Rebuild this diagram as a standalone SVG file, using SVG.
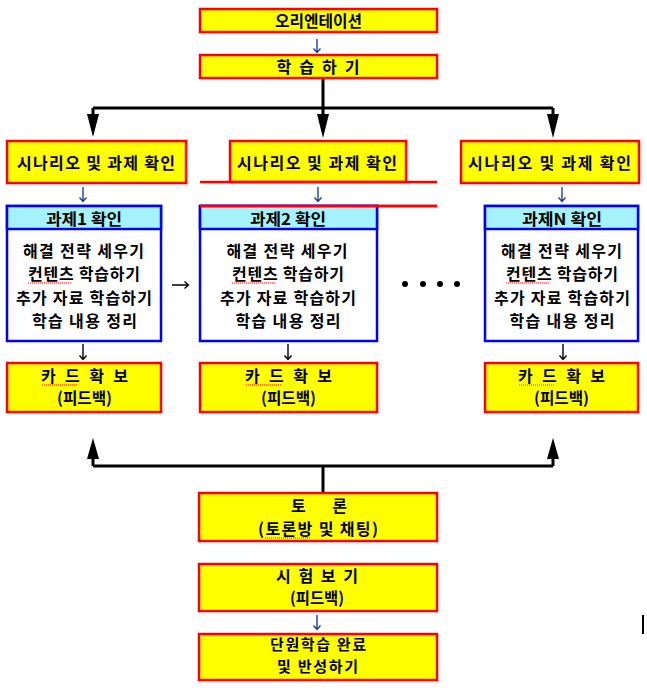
<svg xmlns="http://www.w3.org/2000/svg" width="647" height="690" viewBox="0 0 647 690">
<style>
.yb{fill:#ffff00;stroke:#ff0000;stroke-width:2.5}
.wb{fill:#ffffff;stroke:#0000ff;stroke-width:2.5}
.hd{fill:#a6f2fb;stroke:#0000ff;stroke-width:2.5}
.t{font-family:"Noto Sans CJK KR","Noto Sans",sans-serif;font-size:16px;font-weight:bold;fill:#000;text-anchor:middle}
.s15{font-size:15px}
.ln{stroke:#000;stroke-width:3;fill:none}
.ah{fill:#000}
.sa{stroke:#1f3f99;stroke-width:1.4;fill:none}
.ka{stroke:#000;stroke-width:1.4;fill:none}
.sq{stroke:#ff0000;stroke-width:1;stroke-dasharray:1 1;fill:none}
</style>
<g id="connectors">
<path class="ln" d="M323 78V108M93 108H553M93 108V118M323 108V118M553 108V118"/>
<polygon class="ah" points="87,114 99,114 93,137"/>
<polygon class="ah" points="317,114 329,114 323,138"/>
<polygon class="ah" points="547,114 559,114 553,138"/>
<path class="ln" d="M323 492V466M93 466H553M93 466V455M553 466V455"/>
<polygon class="ah" points="87,459 99,459 93,438"/>
<polygon class="ah" points="547,459 559,459 553,438"/>
<path class="sa" d="M317 39V52M313.5 48.5L317 52.5L320.5 48.5"/>
<path class="sa" d="M83 187V201M79.5 197.5L83 201.5L86.5 197.5"/>
<path class="sa" d="M318 187V201M314.5 197.5L318 201.5L321.5 197.5"/>
<path class="sa" d="M562 187V201M558.5 197.5L562 201.5L565.5 197.5"/>
<path class="ka" d="M83 344V359M79.5 355.5L83 359.5L86.5 355.5"/>
<path class="ka" d="M288 344V359M284.5 355.5L288 359.5L291.5 355.5"/>
<path class="ka" d="M563 344V359M559.5 355.5L563 359.5L566.5 355.5"/>
<path class="ka" d="M172 285H188M184.5 281.5L188.5 285L184.5 288.5"/>
<path class="sa" d="M317 615V629M313.5 625.5L317 629.5L320.5 625.5"/>
</g>
<g id="orientation">
<rect class="yb" x="200" y="9" width="237" height="23"/>
<text class="t" x="318.5" y="27" textLength="87" lengthAdjust="spacingAndGlyphs">오리엔테이션</text>
</g>
<g id="study">
<rect class="yb" x="200" y="55" width="237" height="23"/>
<text class="t" x="318" y="73" textLength="83" lengthAdjust="spacing">학 습 하 기</text>
</g>
<g id="scenario1">
<rect class="yb" x="7" y="141" width="179" height="42"/>
<text class="t" x="96" y="169" textLength="158" lengthAdjust="spacing">시나리오 및 과제 확인</text>
</g>
<g id="scenario2">
<rect class="yb" x="230" y="141" width="176" height="41"/>
<path d="M200 182H437M200 206H437" stroke="#ff0000" stroke-width="2.5"/>
<text class="t" x="317" y="169" textLength="160" lengthAdjust="spacing">시나리오 및 과제 확인</text>
</g>
<g id="scenario3">
<rect class="yb" x="461" y="141" width="178" height="42"/>
<text class="t" x="549.5" y="169" textLength="163" lengthAdjust="spacing">시나리오 및 과제 확인</text>
</g>
<g id="task1">
<rect class="wb" x="7" y="206" width="154" height="135"/>
<rect class="hd" x="7" y="206" width="154" height="23"/>
<text class="t" x="84" y="225" textLength="76" lengthAdjust="spacingAndGlyphs">과제1 확인</text>
<text class="t" x="83.5" y="257" textLength="121" lengthAdjust="spacing">해결 전략 세우기</text>
<text class="t" x="84" y="280" textLength="112" lengthAdjust="spacing">컨텐츠 학습하기</text>
<text class="t" x="84" y="304" textLength="136" lengthAdjust="spacing">추가 자료 학습하기</text>
<text class="t" x="84.5" y="327" textLength="105" lengthAdjust="spacing">학습 내용 정리</text>
<path class="sq" d="M28 283H71"/>
</g>
<g id="task2">
<rect class="wb" x="200" y="206" width="177" height="135"/>
<rect class="hd" x="200" y="206" width="177" height="23"/>
<path d="M200 206H437" stroke="#ff0000" stroke-width="2.5"/>
<text class="t" x="288" y="225" textLength="76" lengthAdjust="spacingAndGlyphs">과제2 확인</text>
<text class="t" x="287" y="257" textLength="121" lengthAdjust="spacing">해결 전략 세우기</text>
<text class="t" x="288" y="280" textLength="112" lengthAdjust="spacing">컨텐츠 학습하기</text>
<text class="t" x="288" y="304" textLength="136" lengthAdjust="spacing">추가 자료 학습하기</text>
<text class="t" x="288" y="327" textLength="105" lengthAdjust="spacing">학습 내용 정리</text>
<path class="sq" d="M232 283H275"/>
</g>
<g id="task-n">
<rect class="wb" x="485" y="206" width="153" height="135"/>
<rect class="hd" x="485" y="206" width="153" height="23"/>
<text class="t" x="562" y="225" textLength="80" lengthAdjust="spacingAndGlyphs">과제N 확인</text>
<text class="t" x="561.5" y="257" textLength="121" lengthAdjust="spacing">해결 전략 세우기</text>
<text class="t" x="562" y="280" textLength="112" lengthAdjust="spacing">컨텐츠 학습하기</text>
<text class="t" x="562" y="304" textLength="136" lengthAdjust="spacing">추가 자료 학습하기</text>
<text class="t" x="562" y="327" textLength="105" lengthAdjust="spacing">학습 내용 정리</text>
<path class="sq" d="M506 283H549"/>
</g>
<g id="dots">
<circle cx="405" cy="284" r="3"/>
<circle cx="423" cy="284" r="3"/>
<circle cx="440" cy="284" r="3"/>
<circle cx="457" cy="284" r="3"/>
</g>
<g id="card1">
<rect class="yb" x="7" y="363" width="154" height="49"/>
<text class="t" x="84.5" y="382" textLength="87" lengthAdjust="spacing">카 드 확 보</text>
<text class="t" x="84.5" y="404" textLength="55" lengthAdjust="spacingAndGlyphs">(피드백)</text>
<path class="sq" d="M42 385H78"/>
</g>
<g id="card2">
<rect class="yb" x="200" y="363" width="177" height="49"/>
<text class="t" x="288.5" y="382" textLength="87" lengthAdjust="spacing">카 드 확 보</text>
<text class="t" x="288.5" y="404" textLength="55" lengthAdjust="spacingAndGlyphs">(피드백)</text>
<path class="sq" d="M246 385H282"/>
</g>
<g id="card-n">
<rect class="yb" x="485" y="363" width="153" height="49"/>
<text class="t" x="561.5" y="382" textLength="87" lengthAdjust="spacing">카 드 확 보</text>
<text class="t" x="561.5" y="404" textLength="55" lengthAdjust="spacingAndGlyphs">(피드백)</text>
<path class="sq" d="M519 385H555"/>
</g>
<g id="discussion">
<rect class="yb" x="199" y="493" width="238" height="48"/>
<text class="t" x="319" y="512" textLength="56" lengthAdjust="spacing">토      론</text>
<text class="t" x="318" y="535" textLength="120" lengthAdjust="spacing">(토론방 및 채팅)</text>
<path class="sq" d="M265 538H310"/>
</g>
<g id="exam">
<rect class="yb" x="199" y="564" width="238" height="47"/>
<text class="t" x="317" y="582" textLength="82" lengthAdjust="spacing">시 험 보 기</text>
<text class="t" x="317" y="604" textLength="54" lengthAdjust="spacingAndGlyphs">(피드백)</text>
</g>
<g id="complete">
<rect class="yb" x="199" y="634" width="238" height="46"/>
<text class="t s15" x="318" y="650" textLength="96" lengthAdjust="spacing">단원학습 완료</text>
<text class="t s15" x="317.5" y="672" textLength="81" lengthAdjust="spacing">및 반성하기</text>
</g>
<rect x="642" y="615" width="2" height="19" fill="#000"/>
</svg>
